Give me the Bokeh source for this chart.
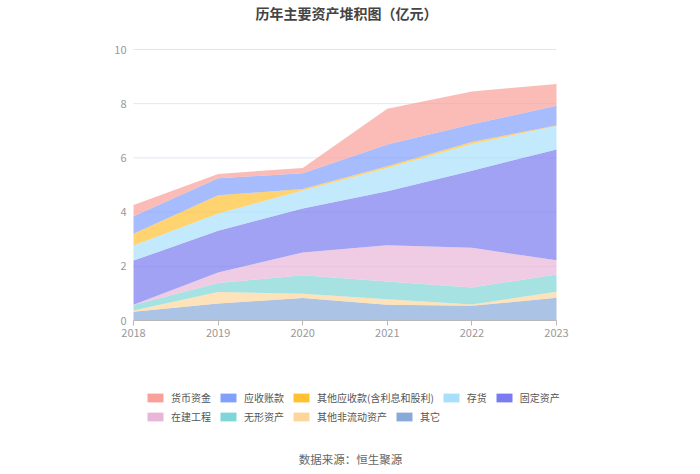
from bokeh.plotting import figure
from bokeh.models import Range1d, Legend, LegendItem, Label, ColumnDataSource, FixedTicker
from bokeh.embed import file_html
from bokeh.resources import INLINE

years = [2018, 2019, 2020, 2021, 2022, 2023]
# stacked bottom -> top
qita      = [0.32, 0.63, 0.83, 0.58, 0.54, 0.84]   # 其它
feiliudong = [0.05, 0.42, 0.16, 0.20, 0.05, 0.22]  # 其他非流动资产
wuxing    = [0.20, 0.33, 0.68, 0.66, 0.63, 0.64]   # 无形资产
zaijian   = [0.01, 0.39, 0.84, 1.34, 1.46, 0.52]   # 在建工程
guding    = [1.63, 1.54, 1.62, 1.99, 2.85, 4.09]   # 固定资产
cunhuo    = [0.56, 0.64, 0.67, 0.86, 0.98, 0.87]   # 存货
qitayingshou = [0.43, 0.67, 0.05, 0.06, 0.08, 0.02]  # 其他应收款(含利息和股利)
yingshou  = [0.65, 0.63, 0.58, 0.80, 0.65, 0.72]   # 应收账款
huobi     = [0.41, 0.16, 0.20, 1.32, 1.21, 0.81]   # 货币资金

names = ["其它", "其他非流动资产", "无形资产", "在建工程", "固定资产", "存货",
         "其他应收款(含利息和股利)", "应收账款", "货币资金"]
series = [qita, feiliudong, wuxing, zaijian, guding, cunhuo, qitayingshou, yingshou, huobi]
colors = ["#88aad9", "#fed69b", "#80d6d6", "#e8b6d8", "#7a7bf0", "#a8e0fb",
          "#ffc132", "#80a0fb", "#f9a09a"]
y_ticks = [0, 2, 4, 6, 8, 10]
title_text = "历年主要资产堆积图（亿元）"
source_text = "数据来源：恒生聚源"
row1 = ["货币资金", "应收账款", "其他应收款(含利息和股利)", "存货", "固定资产"]
row2 = ["在建工程", "无形资产", "其他非流动资产", "其它"]

FONT = "Noto Sans CJK SC"

W, H = 700, 474
X0_PX, X1_PX = 133, 556                # pixel columns of first and last year
Y_TOP_PX, Y_ZERO_PX = 49, 320          # pixel rows of value 10 and value 0
kx = (X1_PX - X0_PX) / (years[-1] - years[0])
ky = (Y_ZERO_PX - Y_TOP_PX) / 10.0
x_min = years[0] - X0_PX / kx
x_max = years[-1] + (W - X1_PX) / kx
y_max = Y_ZERO_PX / ky
y_min = y_max - H / ky

data = {"x": years}
for n, s in zip(names, series):
    data[n] = s
src = ColumnDataSource(data)

p = figure(width=W, height=H, output_backend="svg", toolbar_location=None,
           x_range=Range1d(x_min, x_max), y_range=Range1d(y_min, y_max),
           min_border_left=0, min_border_right=0, min_border_top=0,
           min_border_bottom=0)
p.title.text = ""
p.title.visible = False
p.outline_line_color = None
p.background_fill_color = "white"

# horizontal grid lines limited to the data span
p.segment(x0=[years[0]] * len(y_ticks), x1=[years[-1]] * len(y_ticks),
          y0=y_ticks, y1=y_ticks, line_color="#e0e6f1", line_width=1)

p.varea_stack(stackers=names, x="x", source=src, color=colors, fill_alpha=0.7)

# axes styling
p.xaxis.fixed_location = 0
p.xaxis.bounds = (years[0], years[-1])
p.xaxis.ticker = FixedTicker(ticks=years)
p.xaxis.axis_line_color = "#b8b8b8"
p.xaxis.major_tick_line_color = "#b8b8b8"
p.xaxis.major_tick_in = 0
p.xaxis.major_tick_out = 5
p.xaxis.minor_tick_line_color = None
p.xaxis.major_label_text_color = "#999999"
p.xaxis.major_label_text_font_size = "11px"
p.xaxis.major_label_text_font = FONT
p.xaxis.major_label_standoff = 3

p.yaxis.fixed_location = years[0]
p.yaxis.ticker = FixedTicker(ticks=y_ticks)
p.yaxis.axis_line_color = None
p.yaxis.major_tick_line_color = None
p.yaxis.major_tick_in = 0
p.yaxis.major_tick_out = 0
p.yaxis.minor_tick_line_color = None
p.yaxis.major_label_text_color = "#999999"
p.yaxis.major_label_text_font_size = "11px"
p.yaxis.major_label_text_font = FONT
p.yaxis.major_label_standoff = 7

p.xgrid.grid_line_color = None
p.ygrid.grid_line_color = None

# legend swatches (full opacity, zero-height so nothing shows in the plot)
dummy = {}
for n, c in zip(names, colors):
    dummy[n] = p.varea(x=[years[0], years[1]], y1=[0, 0], y2=[0, 0],
                       fill_color=c, fill_alpha=1.0)

def make_legend(row, vy):
    lg = Legend(items=[LegendItem(label=n, renderers=[dummy[n]]) for n in row],
                orientation="horizontal", location=(145, vy))
    lg.glyph_width = 20
    lg.glyph_height = 11
    lg.label_standoff = 6
    lg.spacing = 7
    lg.padding = 0
    lg.margin = 0
    lg.border_line_color = None
    lg.background_fill_alpha = 0
    lg.label_text_font = FONT
    lg.label_text_font_size = "10px"
    lg.label_text_color = "#555555"
    lg.label_height = 12
    return lg

p.add_layout(make_legend(row1, H - 397 - 8), "center")
p.add_layout(make_legend(row2, H - 416 - 8), "center")

p.add_layout(Label(x=346, y=H - 12, x_units="screen", y_units="screen",
                   text=title_text, text_align="center",
                   text_baseline="middle", text_font=FONT, text_font_size="14px",
                   text_font_style="bold", text_color="#444444"))
p.add_layout(Label(x=350, y=H - 458, x_units="screen", y_units="screen",
                   text=source_text, text_align="center",
                   text_baseline="middle", text_font=FONT, text_font_size="11.5px",
                   text_color="#666666"))

open("out.html", "w").write(file_html(p, INLINE))
